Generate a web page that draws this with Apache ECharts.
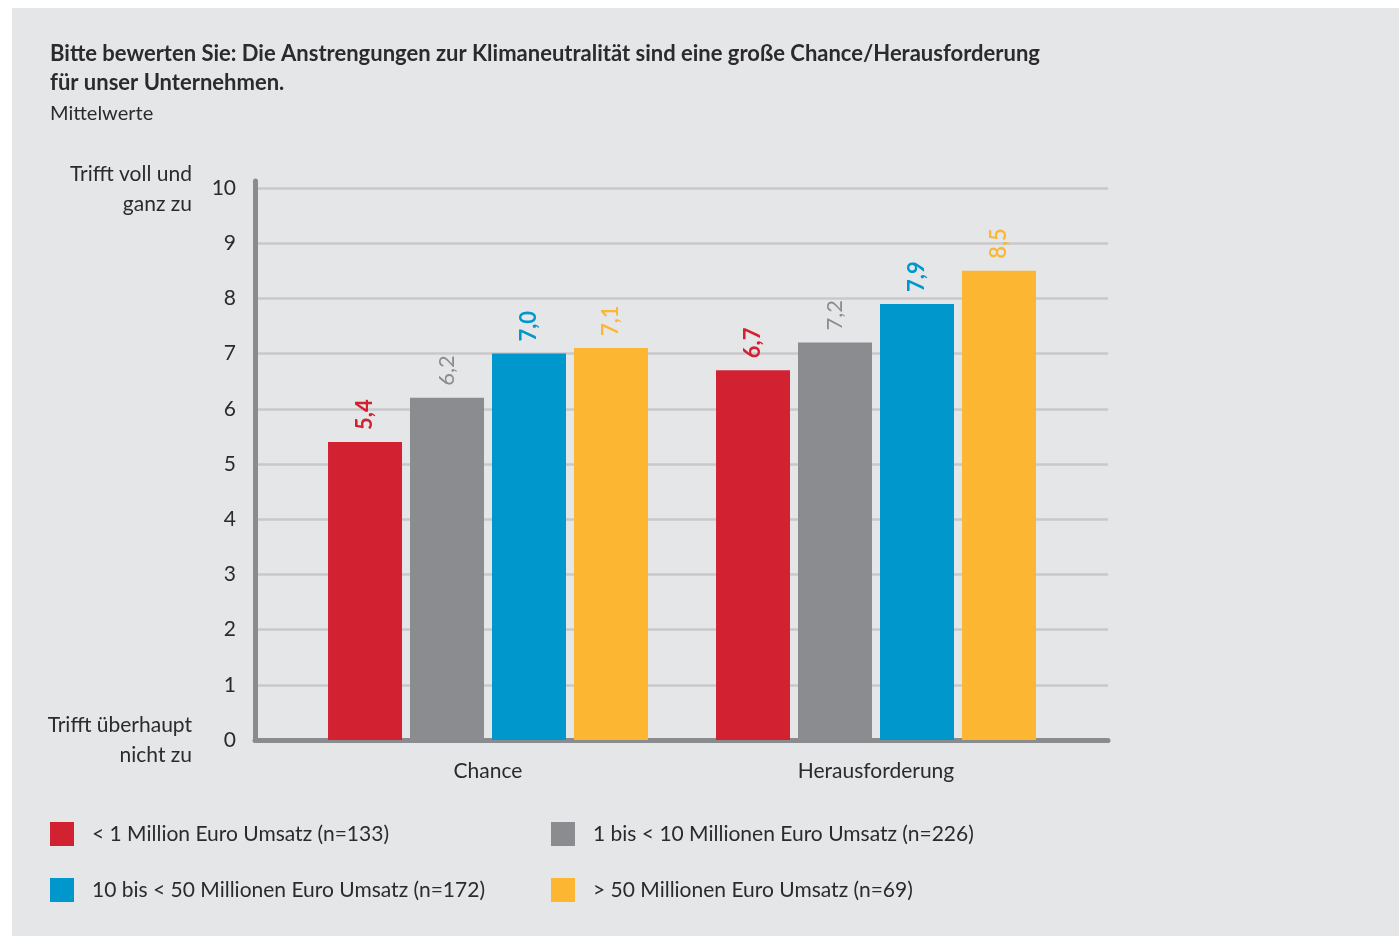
<!DOCTYPE html>
<html>
<head>
<meta charset="utf-8">
<script src="https://cdn.jsdelivr.net/npm/echarts@6/dist/echarts.min.js"></script>
<style>
  html, body { margin: 0; padding: 0; background: #ffffff; }
  #chart { width: 1399px; height: 936px; }
</style>
</head>
<body>
<div id="chart"></div>
<script>
// Survey means by company revenue class
const categories = ['Chance', 'Herausforderung'];
const seriesNames = [
  '< 1 Million Euro Umsatz (n=133)',
  '1 bis < 10 Millionen Euro Umsatz (n=226)',
  '10 bis < 50 Millionen Euro Umsatz (n=172)',
  '> 50 Millionen Euro Umsatz (n=69)'
];
const valuesUnder1 = [5.4, 6.7];
const values1to10 = [6.2, 7.2];
const values10to50 = [7.0, 7.9];
const valuesOver50 = [7.1, 8.5];
const yMin = 0;
const yMax = 10;
const yStep = 1;
const scaleTopLabel = 'Trifft voll und\nganz zu';
const scaleBottomLabel = 'Trifft überhaupt\nnicht zu';

const seriesValues = [valuesUnder1, values1to10, values10to50, valuesOver50];
const colors = ['#d22232', '#8b8c8f', '#0098cc', '#fcb632'];
const labelWeights = ['bold', 'normal', 'bold', '600'];

const FONT = 'Lato, "Open Sans", sans-serif';
const TEXT = '#2b2a2c';

const chart = echarts.init(document.getElementById('chart'), null, { renderer: 'canvas' });

const series = seriesValues.map((vals, i) => ({
  name: seriesNames[i],
  type: 'bar',
  xAxisIndex: 0,
  yAxisIndex: 0,
  data: vals,
  barWidth: 74,
  barGap: '10.8%',
  itemStyle: { color: colors[i] },
  z: 3,
  label: {
    show: true,
    position: 'top',
    rotate: 90,
    align: 'left',
    verticalAlign: 'middle',
    distance: 12,
    color: colors[i],
    fontFamily: FONT,
    fontSize: 22,
    fontWeight: labelWeights[i],
    formatter: p => p.value.toFixed(1).replace('.', ',')
  }
}));

const legendPos = [[50, 822], [551, 822], [50, 878], [551, 878]];
const legends = seriesNames.map((name, i) => ({
  data: [name],
  left: legendPos[i][0],
  top: legendPos[i][1],
  padding: 0,
  itemWidth: 24,
  itemHeight: 24,
  icon: 'rect',
  selectedMode: false,
  textStyle: {
    fontFamily: FONT,
    fontSize: 21,
    color: TEXT,
    padding: [0, 0, 0, 13]
  }
}));

const option = {
  backgroundColor: '#ffffff',
  animation: false,
  title: {
    left: 50,
    top: 39,
    padding: 0,
    itemGap: 2,
    text: 'Bitte bewerten Sie: Die Anstrengungen zur Klimaneutralität sind eine große Chance/Herausforderung\nfür unser Unternehmen.',
    textStyle: { fontFamily: FONT, fontSize: 22, fontWeight: 'bold', color: TEXT, lineHeight: 29 },
    subtext: 'Mittelwerte',
    subtextStyle: { fontFamily: FONT, fontSize: 20, color: TEXT, lineHeight: 29 }
  },
  legend: legends,
  graphic: [
    { type: 'rect', z: -100, silent: true,
      shape: { x: 12, y: 8, width: 1399 - 12, height: 936 - 8 },
      style: { fill: '#e5e6e8' } },
    { type: 'text', silent: true,
      style: { text: scaleTopLabel, x: 192, y: 159, align: 'right', verticalAlign: 'top',
               lineHeight: 30, font: '21px ' + FONT, fill: TEXT } },
    { type: 'text', silent: true,
      style: { text: scaleBottomLabel, x: 192, y: 710, align: 'right', verticalAlign: 'top',
               lineHeight: 30, font: '21px ' + FONT, fill: TEXT } }
  ],
  grid: [
    // bars
    { left: 294, right: 1399 - 1070, top: 188, bottom: 936 - 740 },
    // value scale with grid lines
    { left: 255, right: 1399 - 1108, top: 188, bottom: 936 - 740 },
    // frame lines (vertical axis extends slightly above the top tick)
    { left: 255, right: 1399 - 1108, top: 181, bottom: 936 - 740 }
  ],
  xAxis: [
    { type: 'category', gridIndex: 0, data: categories,
      axisLine: { show: false }, axisTick: { show: false },
      axisLabel: { margin: 21, fontFamily: FONT, fontSize: 21, color: TEXT } },
    { type: 'value', gridIndex: 1, show: false, min: 0, max: 1 },
    { type: 'value', gridIndex: 2, min: 0, max: 1,
      axisLine: { show: true, lineStyle: { color: '#8a8b8e', width: 5 } },
      axisTick: { show: false }, axisLabel: { show: false }, splitLine: { show: false } }
  ],
  yAxis: [
    { type: 'value', gridIndex: 0, min: yMin, max: yMax, interval: yStep, show: false },
    { type: 'value', gridIndex: 1, min: yMin, max: yMax, interval: yStep,
      axisLine: { show: false }, axisTick: { show: false },
      axisLabel: { margin: 19, fontFamily: FONT, fontSize: 21, color: TEXT },
      splitLine: { show: true, lineStyle: { color: '#c8c9cb', width: 2.5 } } },
    { type: 'value', gridIndex: 2, min: 0, max: 1,
      axisLine: { show: true, lineStyle: { color: '#8a8b8e', width: 5 } },
      axisTick: { show: false }, axisLabel: { show: false }, splitLine: { show: false } }
  ],
  series: series
};

chart.setOption(option);
</script>
</body>
</html>
